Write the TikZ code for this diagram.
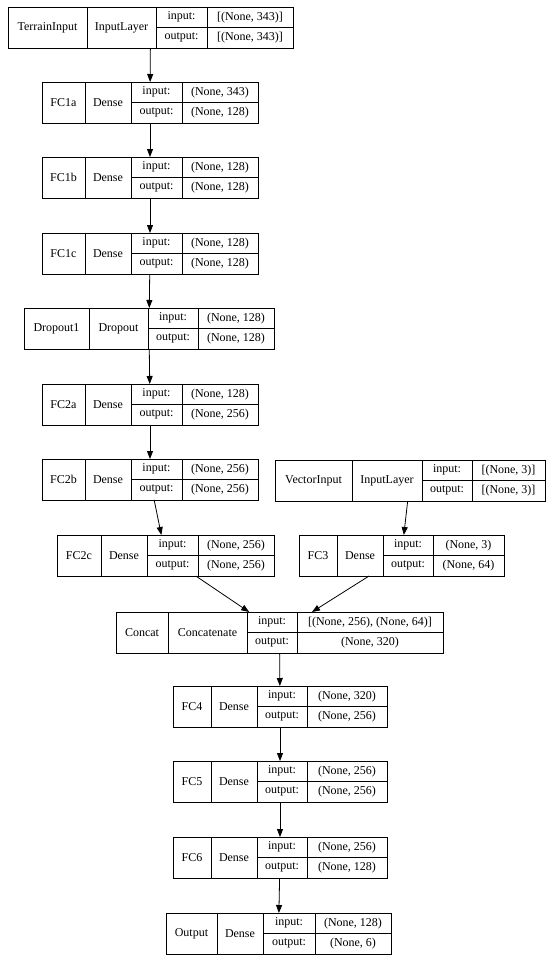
\documentclass[tikz,border=0pt]{standalone}
\usepackage{fontspec}
\setmainfont{Liberation Serif}
\usetikzlibrary{arrows.meta,positioning,fit}

\tikzset{
  wl/.store in=\wl, wt/.store in=\wt, wi/.store in=\wi, ws/.store in=\ws,
  cell/.style={draw,rectangle,inner sep=0pt,outer sep=0pt,line width=0.8pt,
    font=\fontsize{12}{14}\selectfont},
  full/.style={cell,minimum height=41pt},
  half/.style={cell,minimum height=20.5pt},
  rec/.style={inner sep=0pt,outer sep=0pt},
  arr/.style={line width=0.8pt,-{Triangle[length=8pt,width=6pt]}}
}

% one keras record: [widths] name, top-left, label, type, in shape, out shape
\newcommand{\layer}[7][]{%
  \begingroup\tikzset{#1}%
  \node[full,anchor=north west,minimum width=\wl] (#2-l) at (#3) {#4};
  \node[full,minimum width=\wt,right=0pt of #2-l] (#2-t) {#5};
  \node[half,anchor=north west,minimum width=\wi] (#2-i) at (#2-t.north east) {input:};
  \node[half,minimum width=\wi,below=0pt of #2-i] (#2-o) {output:};
  \node[half,minimum width=\ws,right=0pt of #2-i] (#2-si) {#6};
  \node[half,minimum width=\ws,right=0pt of #2-o] (#2-so) {#7};
  \node[rec,fit=(#2-l)(#2-so)] (#2) {};
  \endgroup}

\begin{document}
\begin{tikzpicture}[x=1pt,y=-1pt]
\useasboundingbox (0,0) rectangle (550,962);

\layer[wl=79,wt=69,wi=51,ws=86]{terrain}{8,7}{TerrainInput}{InputLayer}{[(None, 343)]}{[(None, 343)]}
\layer[wl=43,wt=46,wi=51,ws=76]{fc1a}{42,82}{FC1a}{Dense}{(None, 343)}{(None, 128)}
\layer[wl=43,wt=46,wi=51,ws=76]{fc1b}{42,157}{FC1b}{Dense}{(None, 128)}{(None, 128)}
\layer[wl=43,wt=46,wi=51,ws=76]{fc1c}{42,233}{FC1c}{Dense}{(None, 128)}{(None, 128)}
\layer[wl=65,wt=59,wi=50,ws=76]{drop1}{24,308}{Dropout1}{Dropout}{(None, 128)}{(None, 128)}
\layer[wl=43,wt=46,wi=51,ws=76]{fc2a}{42,384}{FC2a}{Dense}{(None, 128)}{(None, 256)}
\layer[wl=43,wt=46,wi=51,ws=76]{fc2b}{42,459}{FC2b}{Dense}{(None, 256)}{(None, 256)}
\layer[wl=77,wt=70,wi=50,ws=73]{vecin}{275,460}{VectorInput}{InputLayer}{[(None, 3)]}{[(None, 3)]}
\layer[wl=44,wt=46,wi=51,ws=76]{fc2c}{57,535}{FC2c}{Dense}{(None, 256)}{(None, 256)}
\layer[wl=38,wt=46,wi=50,ws=71]{fc3}{299,535}{FC3}{Dense}{(None, 3)}{(None, 64)}
\layer[wl=52,wt=79,wi=50,ws=146]{concat}{116,612}{Concat}{Concatenate}{[(None, 256), (None, 64)]}{(None, 320)}
\layer[wl=38,wt=46,wi=50,ws=80]{fc4}{173,686}{FC4}{Dense}{(None, 320)}{(None, 256)}
\layer[wl=38,wt=46,wi=50,ws=80]{fc5}{173,761}{FC5}{Dense}{(None, 256)}{(None, 256)}
\layer[wl=38,wt=46,wi=50,ws=80]{fc6}{173,837}{FC6}{Dense}{(None, 256)}{(None, 128)}
\layer[wl=51,wt=46,wi=52,ws=76]{out}{166,913}{Output}{Dense}{(None, 128)}{(None, 6)}

\draw[arr] (terrain) -- (fc1a);
\draw[arr] (fc1a) -- (fc1b);
\draw[arr] (fc1b) -- (fc1c);
\draw[arr] (fc1c) -- (drop1);
\draw[arr] (drop1) -- (fc2a);
\draw[arr] (fc2a) -- (fc2b);
\draw[arr] (fc2b) -- (fc2c);
\draw[arr] (vecin) -- (fc3);
\draw[arr] (fc2c) -- (concat);
\draw[arr] (fc3) -- (concat);
\draw[arr] (concat) -- (fc4);
\draw[arr] (fc4) -- (fc5);
\draw[arr] (fc5) -- (fc6);
\draw[arr] (fc6) -- (out);
\end{tikzpicture}
\end{document}
